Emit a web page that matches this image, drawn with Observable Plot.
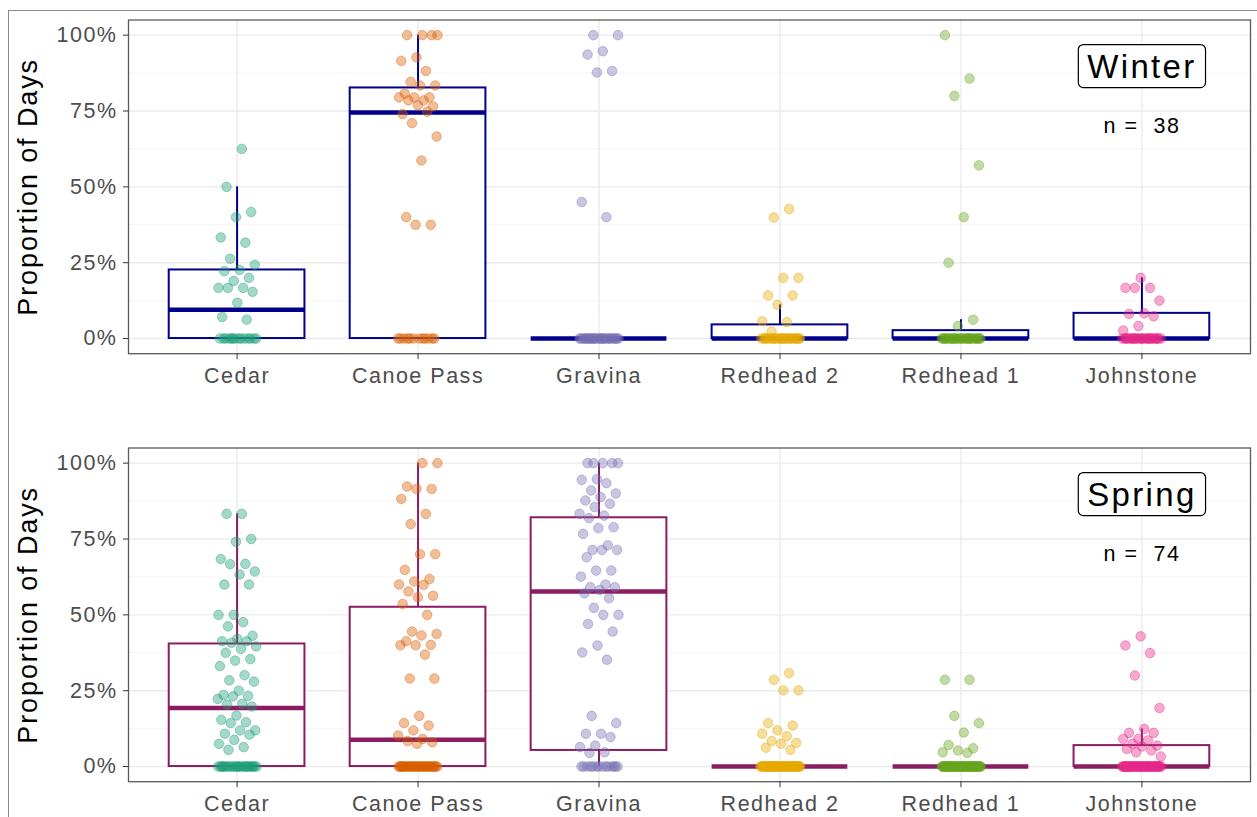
<!DOCTYPE html>
<html><head><meta charset="utf-8">
<script src="https://cdn.jsdelivr.net/npm/d3@7"></script>
<script src="https://cdn.jsdelivr.net/npm/@observablehq/plot@0.6"></script>
<style>
html,body{margin:0;padding:0;background:#fff;overflow:hidden;}
#page{position:relative;width:1257px;height:817px;overflow:hidden;background:#fff;}
#outer{position:absolute;left:8px;top:10px;width:1300px;height:900px;border:1.5px solid #8a8a8a;box-sizing:border-box;}
.panel{position:absolute;left:0;}
.panel svg text{letter-spacing:0.07em;}
</style></head>
<body><div id="page"><div id="outer"></div><div id="winter" class="panel" style="top:0px"></div><div id="spring" class="panel" style="top:400px"></div></div>
<script>
const sites = ["Cedar", "Canoe Pass", "Gravina", "Redhead 2", "Redhead 1", "Johnstone"];
const siteColors = ["#1B9E77", "#D95F02", "#7570B3", "#E6AB02", "#66A61E", "#E7298A"];
const yTicks = [0, 0.25, 0.5, 0.75, 1];
const yMinorTicks = [0.125, 0.375, 0.625, 0.875];
const seasons = ["Winter", "Spring"];
const seasonN = [38, 74];
const boxColors = ["#00008B", "#8B1C62"];

// Winter: proportion of days per sampling unit, by site
const winterCedar = [0.625, 0.50, 0.417, 0.40, 0.333, 0.316, 0.263, 0.243, 0.226, 0.222, 0.20, 0.19, 0.167, 0.167, 0.167, 0.154, 0.118, 0.071, 0.062,
  0, 0, 0, 0, 0, 0, 0, 0, 0, 0, 0, 0, 0, 0];
const winterCanoePass = [1, 1, 1, 1, 0.927, 0.915, 0.882, 0.846, 0.834, 0.834, 0.807, 0.795, 0.795, 0.795, 0.785, 0.785, 0.765, 0.769, 0.74, 0.748, 0.71, 0.666, 0.587, 0.40, 0.375, 0.375,
  0, 0, 0, 0, 0, 0, 0, 0, 0, 0, 0, 0];
const winterGravina = [1, 1, 0.947, 0.936, 0.882, 0.877, 0.45, 0.40,
  0, 0, 0, 0, 0, 0, 0, 0, 0, 0, 0, 0, 0, 0, 0, 0, 0, 0, 0, 0, 0, 0, 0, 0, 0, 0, 0, 0, 0, 0];
const winterRedhead2 = [0.427, 0.399, 0.20, 0.20, 0.142, 0.142, 0.111, 0.057, 0.054, 0.023,
  0, 0, 0, 0, 0, 0, 0, 0, 0, 0, 0, 0, 0, 0, 0, 0, 0, 0, 0, 0, 0, 0, 0, 0, 0, 0, 0, 0];
const winterRedhead1 = [1.0, 0.857, 0.80, 0.571, 0.40, 0.25, 0.062, 0.041,
  0, 0, 0, 0, 0, 0, 0, 0, 0, 0, 0, 0, 0, 0, 0, 0, 0, 0, 0, 0, 0, 0, 0, 0, 0, 0, 0, 0, 0, 0];
const winterJohnstone = [0.20, 0.167, 0.167, 0.167, 0.125, 0.083, 0.081, 0.073, 0.041, 0.026,
  0, 0, 0, 0, 0, 0, 0, 0, 0, 0, 0, 0, 0, 0, 0, 0, 0, 0, 0, 0, 0, 0, 0, 0, 0, 0, 0, 0];

// Spring
const springCedar = [0.833, 0.833, 0.75, 0.741, 0.684, 0.668, 0.667, 0.643, 0.633, 0.60, 0.60, 0.50, 0.50, 0.476, 0.462, 0.431, 0.421, 0.413, 0.413, 0.408,
  0.396, 0.388, 0.375, 0.354, 0.349, 0.331, 0.301, 0.284, 0.28, 0.25, 0.236, 0.233, 0.231, 0.223, 0.207, 0.204, 0.198, 0.168, 0.154, 0.146,
  0.143, 0.119, 0.119, 0.108, 0.105, 0.088, 0.075, 0.064, 0.055,
  0, 0, 0, 0, 0, 0, 0, 0, 0, 0, 0, 0, 0, 0, 0, 0, 0, 0, 0, 0, 0, 0, 0, 0, 0];
const springCanoePass = [1, 1, 0.923, 0.915, 0.915, 0.882, 0.833, 0.799, 0.70, 0.70, 0.648, 0.618, 0.61, 0.60, 0.599, 0.577, 0.563, 0.558, 0.536, 0.50,
  0.445, 0.437, 0.432, 0.413, 0.401, 0.40, 0.40, 0.369, 0.29, 0.29, 0.167, 0.143, 0.135, 0.119, 0.102, 0.091, 0.084, 0.08, 0.075,
  0, 0, 0, 0, 0, 0, 0, 0, 0, 0, 0, 0, 0, 0, 0, 0, 0, 0, 0, 0, 0, 0, 0, 0, 0, 0, 0, 0, 0, 0, 0, 0, 0, 0, 0];
const springGravina = [1, 1, 1, 1, 1, 0.947, 0.945, 0.934, 0.91, 0.90, 0.888, 0.877, 0.866, 0.855, 0.833, 0.827, 0.819, 0.789, 0.786, 0.767,
  0.729, 0.714, 0.714, 0.714, 0.69, 0.646, 0.646, 0.626, 0.60, 0.591, 0.591, 0.582, 0.571, 0.555, 0.523, 0.50, 0.50, 0.47, 0.445, 0.399,
  0.376, 0.352, 0.167, 0.143, 0.108, 0.108, 0.097, 0.069, 0.064, 0.047, 0.045,
  0, 0, 0, 0, 0, 0, 0, 0, 0, 0, 0, 0, 0, 0];
const springRedhead2 = [0.308, 0.286, 0.251, 0.251, 0.143, 0.135, 0.119, 0.108, 0.10, 0.084, 0.078, 0.075, 0.062, 0.055,
  0, 0, 0, 0, 0, 0, 0, 0, 0, 0, 0, 0, 0, 0, 0, 0, 0, 0, 0, 0, 0, 0, 0, 0, 0, 0, 0, 0, 0, 0,
  0, 0, 0, 0, 0, 0, 0, 0, 0, 0, 0, 0, 0, 0, 0, 0, 0, 0, 0, 0, 0, 0, 0, 0, 0, 0, 0, 0, 0, 0];
const springRedhead1 = [0.286, 0.286, 0.167, 0.143, 0.112, 0.071, 0.06, 0.053, 0.047, 0.045,
  0, 0, 0, 0, 0, 0, 0, 0, 0, 0, 0, 0, 0, 0, 0, 0, 0, 0, 0, 0, 0, 0, 0, 0, 0, 0, 0, 0, 0, 0, 0, 0,
  0, 0, 0, 0, 0, 0, 0, 0, 0, 0, 0, 0, 0, 0, 0, 0, 0, 0, 0, 0, 0, 0, 0, 0, 0, 0, 0, 0];
const springJohnstone = [0.429, 0.399, 0.374, 0.30, 0.193, 0.124, 0.111, 0.111, 0.091, 0.091, 0.086, 0.075, 0.069, 0.066, 0.058, 0.053, 0.047, 0.033,
  0, 0, 0, 0, 0, 0, 0, 0, 0, 0, 0, 0, 0, 0, 0, 0, 0, 0, 0, 0, 0, 0, 0, 0, 0, 0, 0, 0,
  0, 0, 0, 0, 0, 0, 0, 0, 0, 0, 0, 0, 0, 0, 0, 0, 0, 0, 0, 0, 0, 0, 0, 0];

// Box statistics (per site, in site order)
const winterQ1 = [0, 0, 0, 0, 0, 0];
const winterMedian = [0.095, 0.745, 0, 0, 0, 0];
const winterQ3 = [0.226, 0.826, 0, 0.045, 0.026, 0.083];
const winterWhiskerLow = [0, 0, 0, 0, 0, 0];
const winterWhiskerHigh = [0.50, 1.0, 0, 0.111, 0.062, 0.20];

const springQ1 = [0, 0, 0.053, 0, 0, 0];
const springMedian = [0.193, 0.088, 0.577, 0, 0, 0];
const springQ3 = [0.404, 0.525, 0.82, 0, 0, 0.069];
const springWhiskerLow = [0, 0, 0, 0, 0, 0];
const springWhiskerHigh = [0.833, 1.0, 1.0, 0, 0, 0.124];

const winterValues = [winterCedar, winterCanoePass, winterGravina, winterRedhead2, winterRedhead1, winterJohnstone];
const springValues = [springCedar, springCanoePass, springGravina, springRedhead2, springRedhead1, springJohnstone];

const siteIndex = sites.map((_, i) => i);
const halfBox = 0.375;
const jitterWidth = 0.22;
const jitter = (i, j) => ((((j + 1) * 0.6180339887 + i * 0.37) % 1) - 0.5) * jitterWidth;
const font = "'Liberation Sans', Arial, Helvetica, sans-serif";

function panel(k, values, q1, med, q3, lo, hi, geom) {
  const boxColor = boxColors[k];
  const points = values.flatMap((arr, i) => arr.map((v, j) => ({i, v, x: i + jitter(i, j), color: siteColors[i]})));
  const boxes = siteIndex.map(i => ({i, q1: q1[i], med: med[i], q3: q3[i], lo: lo[i], hi: hi[i]}));
  const labelSite = sites.indexOf("Johnstone");
  return Plot.plot({
    width: 1257,
    height: geom.height,
    marginLeft: 128,
    marginRight: 7,
    marginTop: geom.top,
    marginBottom: geom.bottom,
    x: {domain: [-0.6, 5.6]},
    y: {domain: [-0.05, 1.05]},
    color: {type: "identity"},
    style: {fontFamily: font, background: "transparent", overflow: "visible"},
    marks: [
      Plot.ruleY(yMinorTicks, {stroke: "#F2F2F2", strokeWidth: 0.8}),
      Plot.ruleY(yTicks, {stroke: "#EBEBEB", strokeWidth: 1.4}),
      Plot.ruleX(siteIndex, {stroke: "#EBEBEB", strokeWidth: 1.4}),
      Plot.ruleX(boxes, {x: "i", y1: "q3", y2: "hi", stroke: boxColor, strokeWidth: 2}),
      Plot.ruleX(boxes, {x: "i", y1: "lo", y2: "q1", stroke: boxColor, strokeWidth: 2}),
      Plot.rect(boxes, {x1: d => d.i - halfBox, x2: d => d.i + halfBox, y1: "q1", y2: "q3", fill: "white", stroke: boxColor, strokeWidth: 2}),
      Plot.ruleY(boxes, {y: "med", x1: d => d.i - halfBox, x2: d => d.i + halfBox, stroke: boxColor, strokeWidth: 4.5}),
      Plot.dot(points, {x: "x", y: "v", r: 4.8, fill: "color", fillOpacity: 0.4, stroke: "color", strokeOpacity: 0.5, strokeWidth: 0.8}),
      Plot.frame({stroke: "#5a5a5a", strokeWidth: 1.3}),
      Plot.axisY({ticks: yTicks, tickFormat: d3.format(".0%"), tickSize: 5, tickPadding: 6, fontSize: 21.5, fill: "#4D4D4D", stroke: "#333", label: null}),
      Plot.axisX({ticks: siteIndex, tickFormat: i => sites[i], tickSize: 6, tickPadding: 8, fontSize: 21.5, fill: "#4D4D4D", stroke: "#333", label: null}),
      Plot.text(["Proportion of Days"], {frameAnchor: "left", textAnchor: "middle", dx: -100.5, rotate: -90, fontSize: 27, fill: "black"}),
      Plot.text([{x: labelSite, y: 0.895, t: seasons[k]}], {x: "x", y: "y", text: "t", fontSize: 33, fill: "black"}),
      Plot.text([{x: labelSite, y: 0.70, t: "n = \u00a0" + seasonN[k]}], {x: "x", y: "y", text: "t", fontSize: 21.5, fill: "black"})
    ]
  });
}

function addLabelBox(svg, label) {
  const ns = "http://www.w3.org/2000/svg";
  for (const t of svg.querySelectorAll("text")) {
    if (t.textContent === label) {
      const bb = t.getBBox();
      const r = document.createElementNS(ns, "rect");
      const padX = 9, padY = 3;
      r.setAttribute("x", bb.x - padX);
      r.setAttribute("y", bb.y - padY);
      r.setAttribute("width", bb.width + 2 * padX);
      r.setAttribute("height", bb.height + 2 * padY);
      r.setAttribute("rx", 5);
      r.setAttribute("fill", "white");
      r.setAttribute("stroke", "black");
      r.setAttribute("stroke-width", 1.2);
      const tr = t.getAttribute("transform");
      if (tr) r.setAttribute("transform", tr);
      t.parentNode.insertBefore(r, t);
    }
  }
}

const w = panel(0, winterValues, winterQ1, winterMedian, winterQ3, winterWhiskerLow, winterWhiskerHigh, {height: 400, top: 19.5, bottom: 46.8});
document.getElementById("winter").appendChild(w);
addLabelBox(w, "Winter");
const s = panel(1, springValues, springQ1, springMedian, springQ3, springWhiskerLow, springWhiskerHigh, {height: 417, top: 47.5, bottom: 35.8});
document.getElementById("spring").appendChild(s);
addLabelBox(s, "Spring");
</script></body></html>
